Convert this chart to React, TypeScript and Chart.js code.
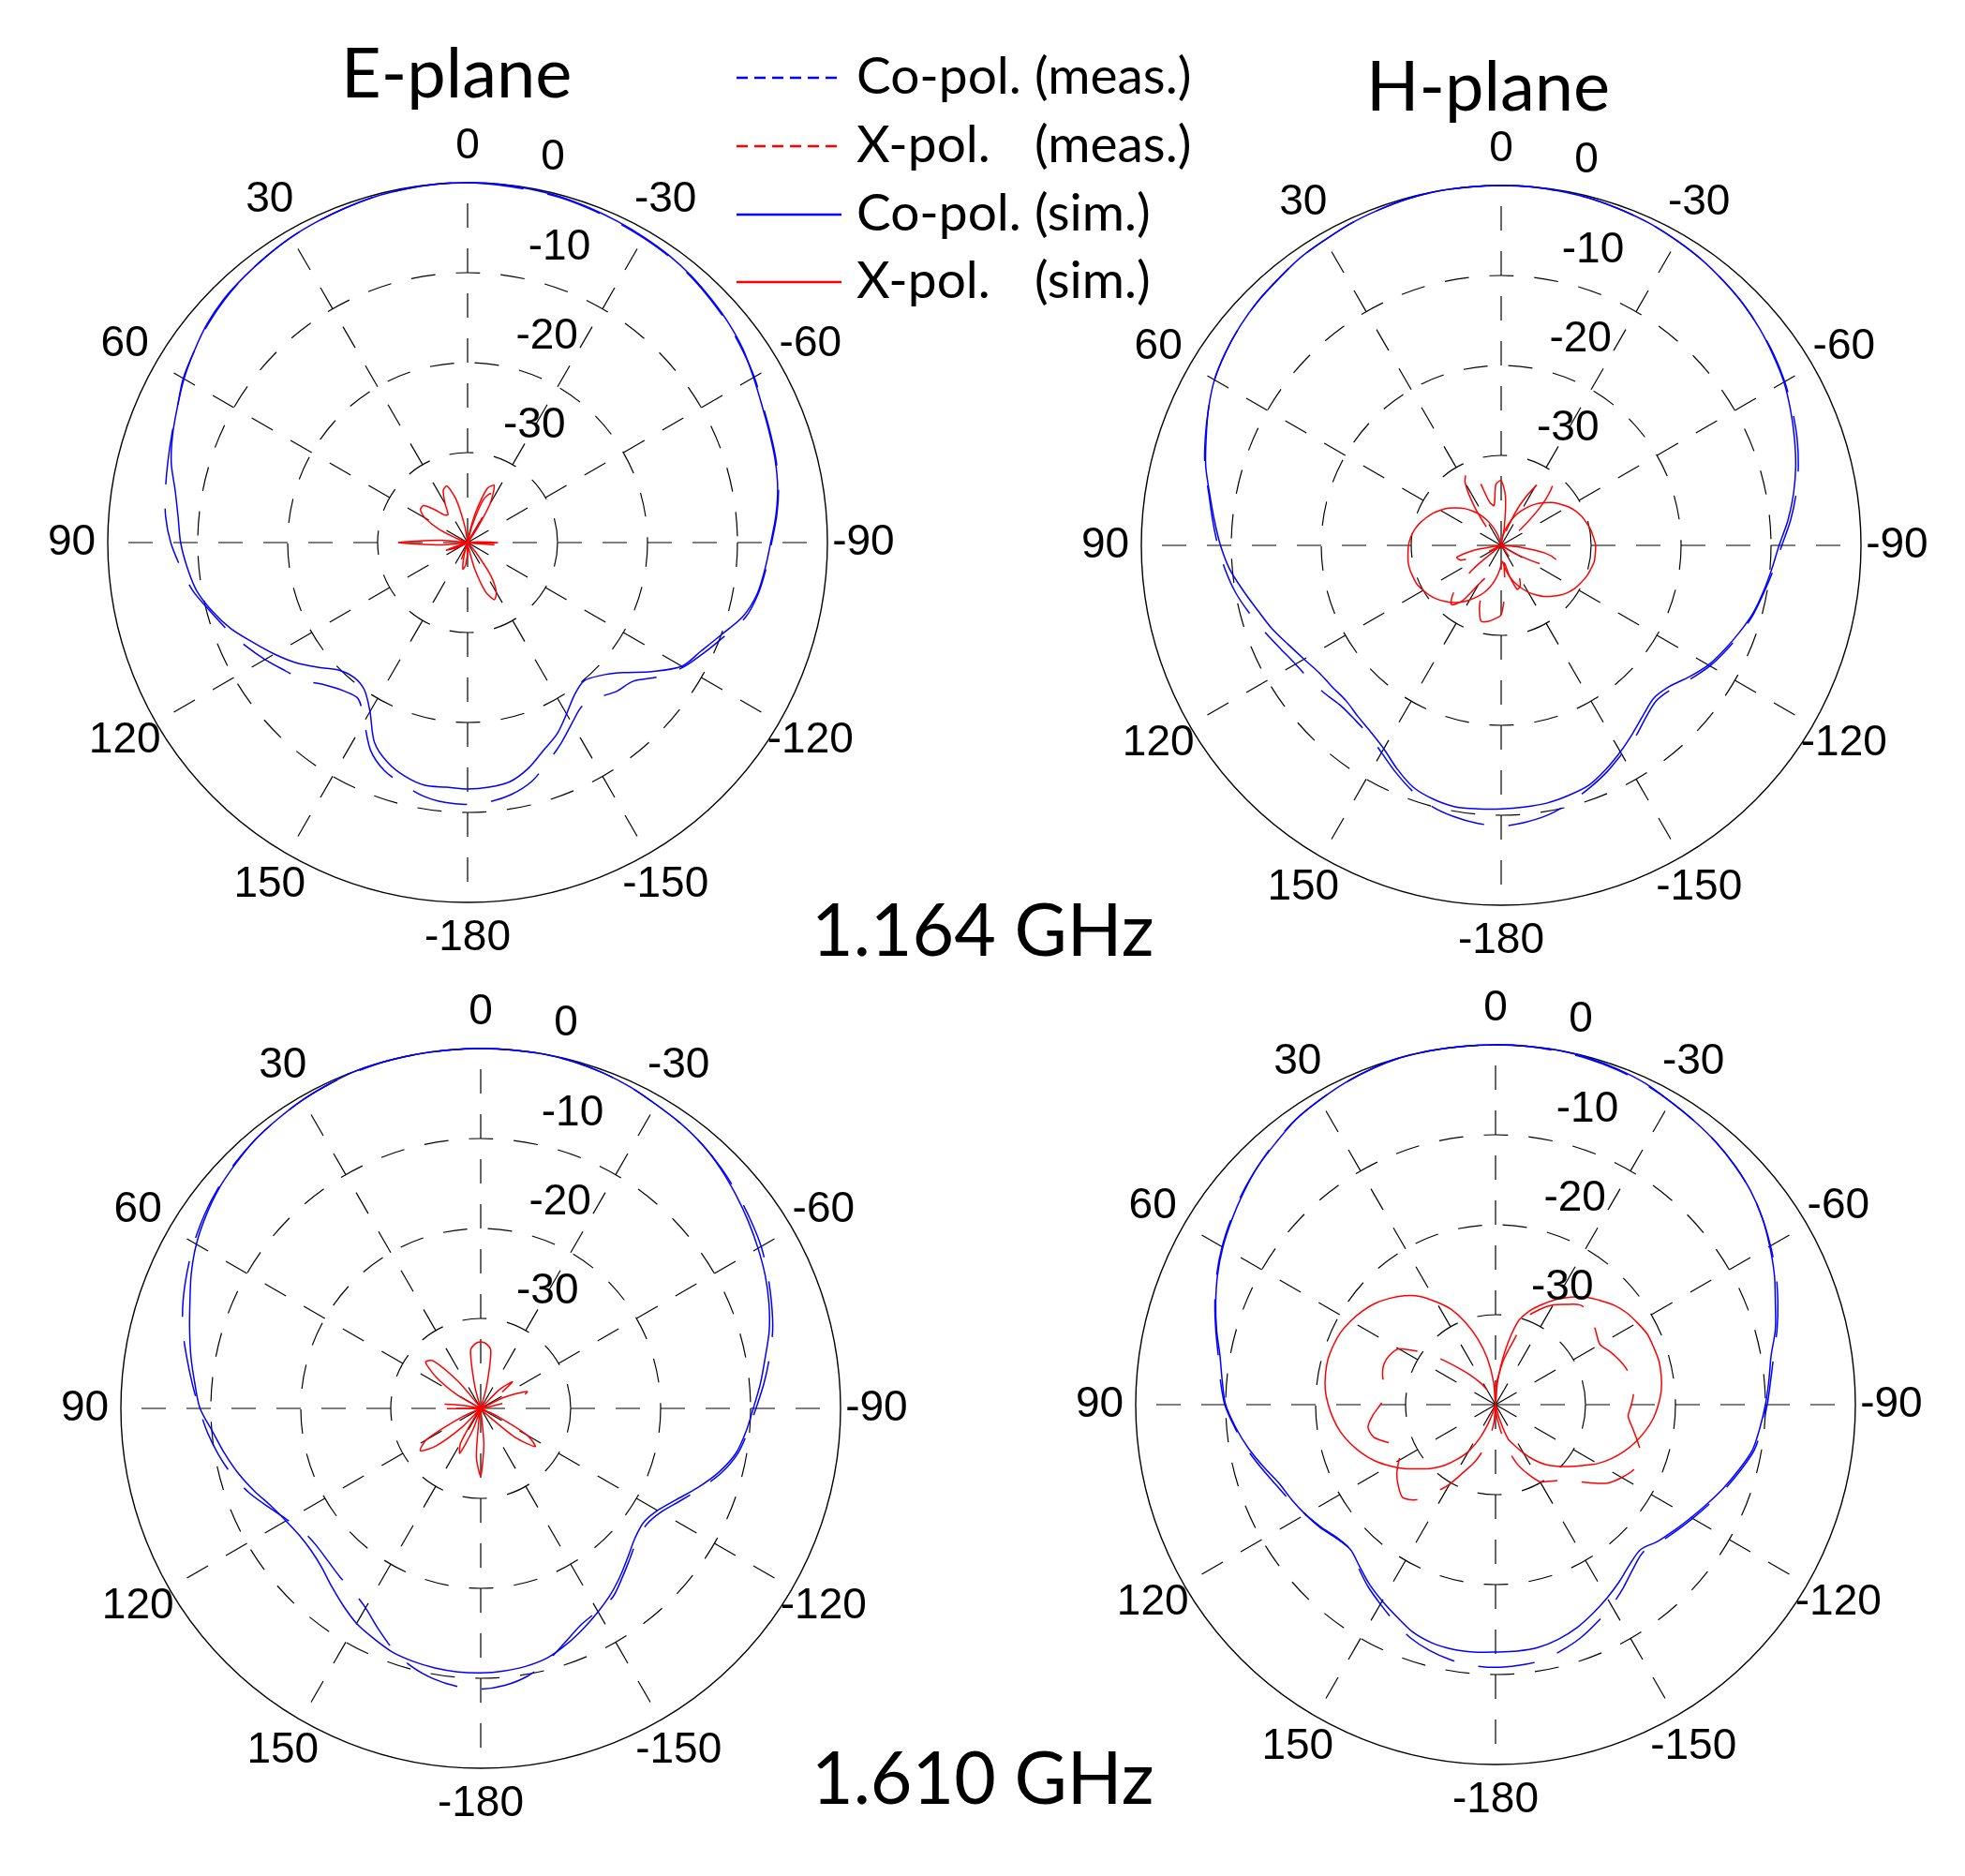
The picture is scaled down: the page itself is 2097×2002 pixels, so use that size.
import React, { useEffect, useRef } from 'react';
import { Chart, registerables } from 'chart.js';

Chart.register(...registerables);

// Angular categories: clockwise from top, 5 degree steps (0, -5, ..., -180, 175, ..., 5)
const angleCategories: string[] = Array.from({ length: 72 }, (_, k) => {
  const a = -5 * k;
  return String(a < -180 ? a + 360 : a);
});
const angleTickLabels = ['0', '-30', '-60', '-90', '-120', '-150', '-180', '150', '120', '90', '60', '30'];
const ringTickValues = [0, -10, -20, -30];
const ringTickLabels = ['0', '-10', '-20', '-30'];

const seriesNames = ['Co-pol. (sim.)', 'Co-pol. (meas.)', 'X-pol. (sim.)', 'X-pol. (meas.)'];

// ---------- E-plane, 1.164 GHz ----------
const e1164CoSim = [
  0, 0, -0.1, -0.2, -0.4, -0.6, -0.8, -1.0, -1.3, -1.7, -2.1, -2.6, -3.3, -3.9, -4.3, -4.6, -5.0, -5.6,
  -6.3, -6.8, -7.3, -8.3, -10.0, -11.4, -12.5, -15.0, -17.5, -19.1, -19.9, -19.3, -18.0, -16.5, -15.4, -14.0, -13.0, -12.7,
  -12.6, -12.7, -12.6, -13.1, -14.0, -15.5, -18.3, -20.0, -20.4, -19.9, -18.4, -16.7, -15.2, -13.7, -12.0, -10.6, -9.4, -8.7,
  -8.1, -7.7, -7.0, -5.9, -5.1, -4.4, -3.6, -2.9, -2.2, -1.7, -1.4, -1.1, -0.8, -0.6, -0.4, -0.2, -0.1, 0,
];
const e1164CoMeas = [
  0, -0.1, -0.2, -0.3, -0.5, -0.7, -0.9, -1.1, -1.4, -1.8, -2.2, -2.7, -3.2, -3.8, -4.2, -4.5, -4.9, -5.5,
  -6.2, -6.7, -7.2, -8.0, -9.6, -11.0, -12.3, -14.0, -16.0, -16.6, -17.5, -17.8, -16.8, -15.4, -14.0, -12.5, -11.6, -11.1,
  -10.9, -11.0, -11.4, -12.2, -13.0, -14.5, -17.0, -18.8, -18.5, -17.6, -16.2, -15.2, -14.0, -12.8, -11.6, -10.4, -9.0, -8.0,
  -7.0, -6.3, -5.9, -5.5, -5.0, -4.4, -3.5, -2.9, -2.3, -1.8, -1.4, -1.1, -0.8, -0.6, -0.4, -0.2, -0.1, 0,
];
const e1164XSim = [
  -40, -40, -39, -36.5, -33.6, -33.0, -35.0, -38.5, -40, -40, -40, -40, -40, -40, -40, -40, -40, -39,
  -36.6, -39, -40, -40, -40, -40, -40, -40, -40, -40, -38.5, -35.5, -33.6, -33.0, -34.2, -37, -39.5, -40,
  -39, -37.5, -37.0, -38.5, -40, -40, -40, -40, -40, -40, -40, -40, -40, -39, -37.5, -39.5, -40, -37,
  -32.3, -37, -40, -40, -39, -36.5, -34.5, -33.6, -33.6, -34.8, -36, -36.2, -35, -33.6, -33.3, -35, -38, -40,
];
const e1164XMeas = [
  -40, -40, -40, -38, -35, -34, -36.5, -40, -40, -40, -40, -40, -40, -40, -40, -40, -40, -40,
  -40, -37, -40, -40, -40, -40, -40, -40, -40, -40, -40, -40, -40, -40, -40, -40, -40, -40,
  -40, -40, -40, -40, -38, -40, -40, -40, -40, -40, -40, -40, -40, -38.5, -37.8, -40, -40, -40,
  -40, -40, -40, -40, -40, -40, -40, -40, -40, -40, -40, -40, -40, -40, -40, -40, -40, -40,
];

// ---------- H-plane, 1.164 GHz ----------
const h1164CoSim = [
  0, 0, -0.1, -0.2, -0.4, -0.6, -0.9, -1.2, -1.6, -2.0, -2.5, -3.1, -3.7, -4.5, -5.3, -6.1, -7.0, -8.0,
  -9.1, -9.8, -10.4, -11.0, -11.8, -12.6, -13.4, -14.5, -15.6, -16.0, -15.4, -14.5, -13.5, -12.5, -11.6, -11.2, -10.9, -10.8,
  -10.7, -10.6, -10.5, -10.8, -11.4, -12.6, -13.9, -14.7, -15.2, -15.6, -15.5, -15.3, -14.7, -13.9, -12.9, -12.0, -10.9, -9.7,
  -8.8, -8.0, -7.1, -6.0, -5.1, -4.1, -3.2, -2.6, -2.1, -1.7, -1.4, -1.0, -0.8, -0.5, -0.3, -0.1, 0, 0,
];
const h1164CoMeas = [
  0, 0, -0.1, -0.2, -0.4, -0.6, -0.9, -1.2, -1.6, -2.0, -2.5, -3.0, -3.6, -4.3, -5.0, -5.8, -6.7, -7.7,
  -8.8, -9.6, -10.3, -10.9, -11.6, -12.4, -13.2, -14.2, -15.2, -15.6, -15.0, -14.0, -13.2, -12.2, -11.3, -10.4, -9.6, -9.1,
  -8.8, -9.0, -9.4, -10.0, -11.0, -12.2, -13.4, -14.3, -14.7, -14.8, -14.4, -14.0, -13.6, -12.9, -12.0, -11.0, -10.0, -9.2,
  -8.5, -7.8, -7.0, -5.9, -5.0, -4.1, -3.2, -2.6, -2.1, -1.7, -1.4, -1.0, -0.8, -0.5, -0.3, -0.1, 0, 0,
];
const h1164XSim = [
  -40, -40, -39.1, -38.2, -37.3, -36.4, -35.6, -34.8, -34.0, -33.3, -32.6, -32.0, -31.4, -30.9, -30.5, -30.2, -29.9, -29.7,
  -29.5, -29.5, -29.5, -29.7, -29.9, -30.2, -30.5, -30.9, -31.4, -32.0, -32.6, -33.3, -34.0, -34.8, -35.6, -36.4, -37.3, -38.2,
  -37.8, -37.0, -36.1, -35.2, -34.4, -33.7, -33.0, -32.3, -31.7, -31.2, -30.7, -30.3, -30.0, -29.7, -29.6, -29.5, -29.5, -29.6,
  -29.7, -29.9, -30.2, -30.6, -31.1, -31.6, -32.2, -32.8, -33.5, -34.2, -35.0, -35.8, -36.7, -37.6, -38.5, -39.3, -40, -40,
];
const h1164XMeas = [
  -32.8, -34.5, -38, -40, -38, -35, -32.5, -30.8, -31.0, -33.5, -37, -40, -40, -40, -40, -40, -40, -40,
  -40, -38, -35, -33.6, -33.4, -35, -38, -40, -40, -40, -40, -38, -36, -35, -34.8, -36.5, -38, -35,
  -32.3, -31.8, -31.4, -31.3, -33, -36, -35, -32.5, -31.4, -32.5, -36, -40, -40, -37.5, -35.2, -34.9, -37, -40,
  -40, -40, -40, -40, -40, -40, -40, -40, -40, -40, -38, -35, -32, -31, -31.5, -35, -35.5, -33.2,
];

// ---------- E-plane, 1.610 GHz ----------
const e1610CoSim = [
  0, 0, 0, -0.1, -0.3, -0.6, -1.0, -1.3, -1.7, -2.3, -3.0, -3.7, -4.4, -5.1, -5.9, -6.8, -7.9, -8.8,
  -9.7, -10.4, -11.2, -12.6, -14.3, -16.0, -17.3, -17.9, -17.6, -16.8, -15.8, -14.8, -13.9, -13.0, -12.1, -11.3, -10.9, -10.7,
  -10.6, -10.6, -10.7, -10.9, -11.2, -11.8, -12.4, -13.3, -14.2, -15.0, -15.4, -15.4, -15.0, -14.3, -13.2, -12.1, -11.1, -10.1,
  -8.8, -8.1, -7.3, -6.5, -5.6, -4.5, -3.5, -2.7, -2.0, -1.5, -1.0, -0.7, -0.4, -0.2, 0, 0, 0, 0,
];
const e1610CoMeas = [
  0, 0, 0, -0.1, -0.3, -0.6, -1.0, -1.3, -1.7, -2.2, -2.8, -3.4, -4.0, -4.8, -5.6, -6.4, -7.4, -8.4,
  -9.4, -10.2, -11.0, -12.3, -14.0, -15.6, -16.9, -17.5, -17.3, -16.5, -15.5, -14.4, -14.0, -13.5, -12.4, -11.0, -9.8, -9.1,
  -8.8, -9.0, -9.5, -10.3, -11.5, -13.0, -14.4, -15.2, -15.6, -16.0, -16.2, -16.0, -15.2, -14.0, -12.6, -11.4, -10.4, -9.5,
  -8.7, -7.8, -6.8, -5.7, -4.8, -4.0, -3.2, -2.5, -1.9, -1.4, -1.0, -0.7, -0.4, -0.2, -0.1, 0, 0, 0,
];
const e1610XSim = [
  -32.6, -32.8, -33.5, -37.5, -40, -40, -40, -40, -40, -40, -40, -40, -40, -40, -40, -40, -40, -40,
  -40, -40, -40, -40, -40, -38, -34, -32.6, -35, -39, -40, -40, -40, -40, -40, -40, -40, -36,
  -32.5, -34.5, -39, -40, -37.5, -34.5, -35.5, -39, -40, -37, -33.5, -31.8, -33, -37.5, -40, -40, -40, -40,
  -40, -40, -40, -40, -40, -40, -37, -34, -32, -32.5, -36, -39.5, -40, -40, -40, -37.5, -33.5, -32.8,
];
const e1610XMeas = [
  -40, -40, -40, -40, -40, -40, -40, -40, -40, -37, -35.4, -38, -40, -37, -34.5, -35.5, -39, -40,
  -40, -40, -40, -40, -40, -40, -40, -40, -40, -40, -40, -40, -40, -40, -40, -40, -40, -40,
  -40, -40, -40, -40, -40, -40, -40, -40, -40, -40, -40, -40, -40, -40, -40, -40, -40, -40,
  -36, -34.8, -38, -40, -40, -40, -40, -40, -40, -40, -40, -40, -40, -40, -40, -40, -40, -40,
];

// ---------- H-plane, 1.610 GHz ----------
const h1610CoSim = [
  0, 0, 0, -0.1, -0.3, -0.6, -1.1, -1.5, -1.9, -2.4, -3.0, -3.8, -4.8, -5.8, -6.9, -7.8, -8.9, -9.5,
  -10.0, -10.5, -11.0, -12.0, -13.0, -14.0, -14.9, -15.7, -16.4, -17.2, -16.8, -16.0, -15.2, -14.4, -13.6, -13.0, -12.6, -12.5,
  -12.5, -12.4, -12.4, -12.6, -13.1, -14.0, -14.8, -15.6, -16.5, -17.2, -16.9, -16.2, -15.6, -15.0, -14.4, -13.3, -12.1, -11.0,
  -10.0, -9.5, -8.9, -7.9, -6.9, -5.9, -5.0, -4.2, -3.4, -2.6, -2.0, -1.3, -0.9, -0.5, -0.2, 0, 0, 0,
];
const h1610CoMeas = [
  0, 0, -0.1, -0.2, -0.4, -0.7, -1.1, -1.5, -1.9, -2.4, -3.0, -3.8, -4.7, -5.6, -6.6, -7.6, -8.6, -9.3,
  -9.8, -10.3, -10.8, -11.8, -12.8, -13.8, -14.7, -15.5, -16.2, -16.8, -16.2, -15.2, -14.2, -13.3, -12.4, -11.7, -11.1, -10.9,
  -10.8, -10.9, -11.2, -11.7, -12.4, -13.4, -14.4, -15.3, -16.3, -17.2, -17.0, -16.3, -15.6, -14.8, -14.0, -13.0, -11.9, -10.9,
  -9.9, -9.3, -8.7, -7.8, -6.8, -5.8, -4.9, -4.1, -3.3, -2.6, -1.9, -1.3, -0.9, -0.5, -0.2, 0, 0, 0,
];
const h1610XSim = [
  -40, -37.5, -34, -30.5, -28.9, -27.7, -26.5, -25.4, -24.4, -23.6, -22.8, -22.2, -21.8, -21.4, -21.3, -21.2, -21.3, -21.5,
  -21.9, -22.4, -23.1, -23.9, -24.8, -25.8, -26.9, -28.2, -29.3, -30.3, -31.3, -32.5, -33.8, -35.0, -36.0, -38.5, -40, -40,
  -40, -40, -40, -40, -38.3, -36.0, -34.0, -32.6, -31.2, -30.0, -28.9, -27.6, -26.4, -25.2, -24.2, -23.3, -22.5, -21.9,
  -21.4, -21.0, -20.8, -20.7, -20.8, -21.0, -21.4, -21.9, -22.5, -23.3, -24.2, -25.3, -26.8, -28.3, -30.3, -32.5, -34.8, -37.5,
];
const h1610XMeas = [
  -38, -37, -35, -33, -29.6, -28.3, -27.2, -26.4, -25.5, -25.3, -25.8, -26.3, -26.6, -26.0, -25.4, -24.9, -24.7, -24.6,
  -24.9, -25.2, -24.5, -23.6, -22.7, -23.0, -23.8, -24.8, -26.5, -28.0, -29.0, -29.6, -30.1, -31.5, -33.0, -35, -37.5, -39,
  -40, -38, -36.4, -34.8, -33.2, -31.8, -29.8, -28.0, -26.2, -25.4, -25.9, -26.6, -27.6, -28.5, -27.5, -26.0, -25.6, -26.3,
  -27.2, -27.8, -27.4, -27.0, -26.8, -27.0, -27.6, -29.8, -32.2, -34.3, -35.8, -37, -38, -38.5, -39, -39.2, -39.2, -38.8,
];

// ---------- layout ----------
const CANVAS = 960;
const HALF = CANVAS / 2;
const RADIUS = 384;
const LABEL_FONT = '46px "Liberation Sans", Arial, Helvetica, sans-serif';
const GRID_DASH = [26, 22];
const MEAS_DASH = [60, 26];

type PlotSpec = { cx: number; cy: number; series: number[][] };

const plots: PlotSpec[] = [
  { cx: 499, cy: 579, series: [e1164CoSim, e1164CoMeas, e1164XSim, e1164XMeas] },
  { cx: 1602, cy: 582, series: [h1164CoSim, h1164CoMeas, h1164XSim, h1164XMeas] },
  { cx: 513, cy: 1503, series: [e1610CoSim, e1610CoMeas, e1610XSim, e1610XMeas] },
  { cx: 1596, cy: 1499, series: [h1610CoSim, h1610CoMeas, h1610XSim, h1610XMeas] },
];

const polarLabelsPlugin = {
  id: 'polarLabels',
  afterDraw(chart: any) {
    const scale = chart.scales.r;
    const ctx = chart.ctx;
    ctx.save();
    ctx.fillStyle = '#000';
    ctx.font = LABEL_FONT;
    ctx.textAlign = 'center';
    ctx.textBaseline = 'middle';
    const outer = scale.getDistanceFromCenterForValue(0);
    angleTickLabels.forEach((txt, i) => {
      const p = scale.getPointPosition(i * 6, outer * 1.1);
      ctx.fillText(txt, p.x, p.y);
    });
    ctx.textAlign = 'left';
    const a = (8 * Math.PI) / 180;
    ringTickValues.forEach((v, i) => {
      const r = scale.getDistanceFromCenterForValue(v) + 5;
      const x = scale.xCenter + r * Math.sin(a);
      const y = scale.yCenter - r * Math.cos(a);
      ctx.fillText(ringTickLabels[i], x + 24, y - 25);
    });
    ctx.restore();
  },
};

function PolarPlot({ spec }: { spec: PlotSpec }) {
  const ref = useRef<HTMLCanvasElement | null>(null);
  useEffect(() => {
    if (!ref.current) return;
    const styles = [
      { color: '#0000ff', dash: [] as number[], tension: 0.3 },
      { color: '#0000ff', dash: MEAS_DASH, tension: 0.3 },
      { color: '#ff0000', dash: [] as number[], tension: 0.25 },
      { color: '#ff0000', dash: MEAS_DASH, tension: 0.25 },
    ];
    const chart = new Chart(ref.current, {
      type: 'radar',
      data: {
        labels: angleCategories,
        datasets: spec.series.map((d, i) => ({
          label: seriesNames[i],
          data: d,
          borderColor: styles[i].color,
          backgroundColor: 'rgba(0,0,0,0)',
          borderWidth: 1.5,
          borderDash: styles[i].dash,
          pointRadius: 0,
          pointHoverRadius: 0,
          fill: false,
          tension: styles[i].tension,
        })),
      },
      options: {
        responsive: false,
        animation: false,
        devicePixelRatio: 1,
        events: [],
        plugins: { legend: { display: false }, tooltip: { enabled: false }, title: { display: false } },
        scales: {
          r: {
            min: -40,
            max: 0,
            ticks: { display: false, stepSize: 10 },
            pointLabels: { display: false },
            grid: {
              circular: true,
              color: (c: any) => (c.tick && c.tick.value === -40 ? 'rgba(0,0,0,0)' : '#000'),
              lineWidth: (c: any) => (c.tick && c.tick.value === 0 ? 1.4 : 1.2),
            },
            border: {
              dash: (c: any) => (c.tick && c.tick.value === 0 ? [] : GRID_DASH),
            },
            angleLines: {
              display: true,
              color: '#000',
              lineWidth: (c: any) => (c.index % 6 === 0 ? 1.2 : 0),
              borderDash: GRID_DASH,
            },
            afterFit: (scale: any) => {
              scale.xCenter = HALF;
              scale.yCenter = HALF;
              scale.drawingArea = RADIUS;
            },
          },
        },
      } as any,
      plugins: [polarLabelsPlugin],
    });
    return () => chart.destroy();
  }, [spec]);
  return (
    <canvas
      ref={ref}
      width={CANVAS}
      height={CANVAS}
      style={{ position: 'absolute', left: spec.cx - HALF, top: spec.cy - HALF, width: CANVAS, height: CANVAS }}
    />
  );
}

const textBase: React.CSSProperties = {
  position: 'absolute',
  fontFamily: 'Lato, "Open Sans", sans-serif',
  lineHeight: 1,
  whiteSpace: 'nowrap',
  color: '#000',
};

const legendRows = [
  { y: 83, top: 52, color: '#0000ff', dashed: true, name: 'Co-pol.', kind: '(meas.)' },
  { y: 156, top: 125, color: '#ff0000', dashed: true, name: 'X-pol.', kind: '(meas.)' },
  { y: 229, top: 198, color: '#0000ff', dashed: false, name: 'Co-pol.', kind: '(sim.)' },
  { y: 301, top: 270, color: '#ff0000', dashed: false, name: 'X-pol.', kind: '(sim.)' },
];

export default function App() {
  return (
    <div
      style={{
        position: 'fixed',
        left: 0,
        top: 0,
        width: 2097,
        height: 2002,
        background: '#fff',
        overflow: 'hidden',
      }}
    >
      {plots.map((p, i) => (
        <PolarPlot key={i} spec={p} />
      ))}
      <div style={{ ...textBase, left: 364, top: 39, fontSize: 74 }}>E-plane</div>
      <div style={{ ...textBase, left: 1458, top: 53, fontSize: 74 }}>H-plane</div>
      <div style={{ ...textBase, left: 866, top: 952, fontSize: 77 }}>1.164 GHz</div>
      <div style={{ ...textBase, left: 866, top: 1857, fontSize: 77 }}>1.610 GHz</div>
      <svg width={130} height={260} style={{ position: 'absolute', left: 780, top: 60 }}>
        {legendRows.map((r, i) => (
          <line
            key={i}
            x1={6}
            x2={118}
            y1={r.y - 60}
            y2={r.y - 60}
            stroke={r.color}
            strokeWidth={2.5}
            strokeDasharray={r.dashed ? '12 7' : undefined}
          />
        ))}
      </svg>
      {legendRows.map((r, i) => (
        <React.Fragment key={i}>
          <div style={{ ...textBase, left: 914, top: r.top, fontSize: 55 }}>{r.name}</div>
          <div style={{ ...textBase, left: 1104, top: r.top, fontSize: 55 }}>{r.kind}</div>
        </React.Fragment>
      ))}
    </div>
  );
}
